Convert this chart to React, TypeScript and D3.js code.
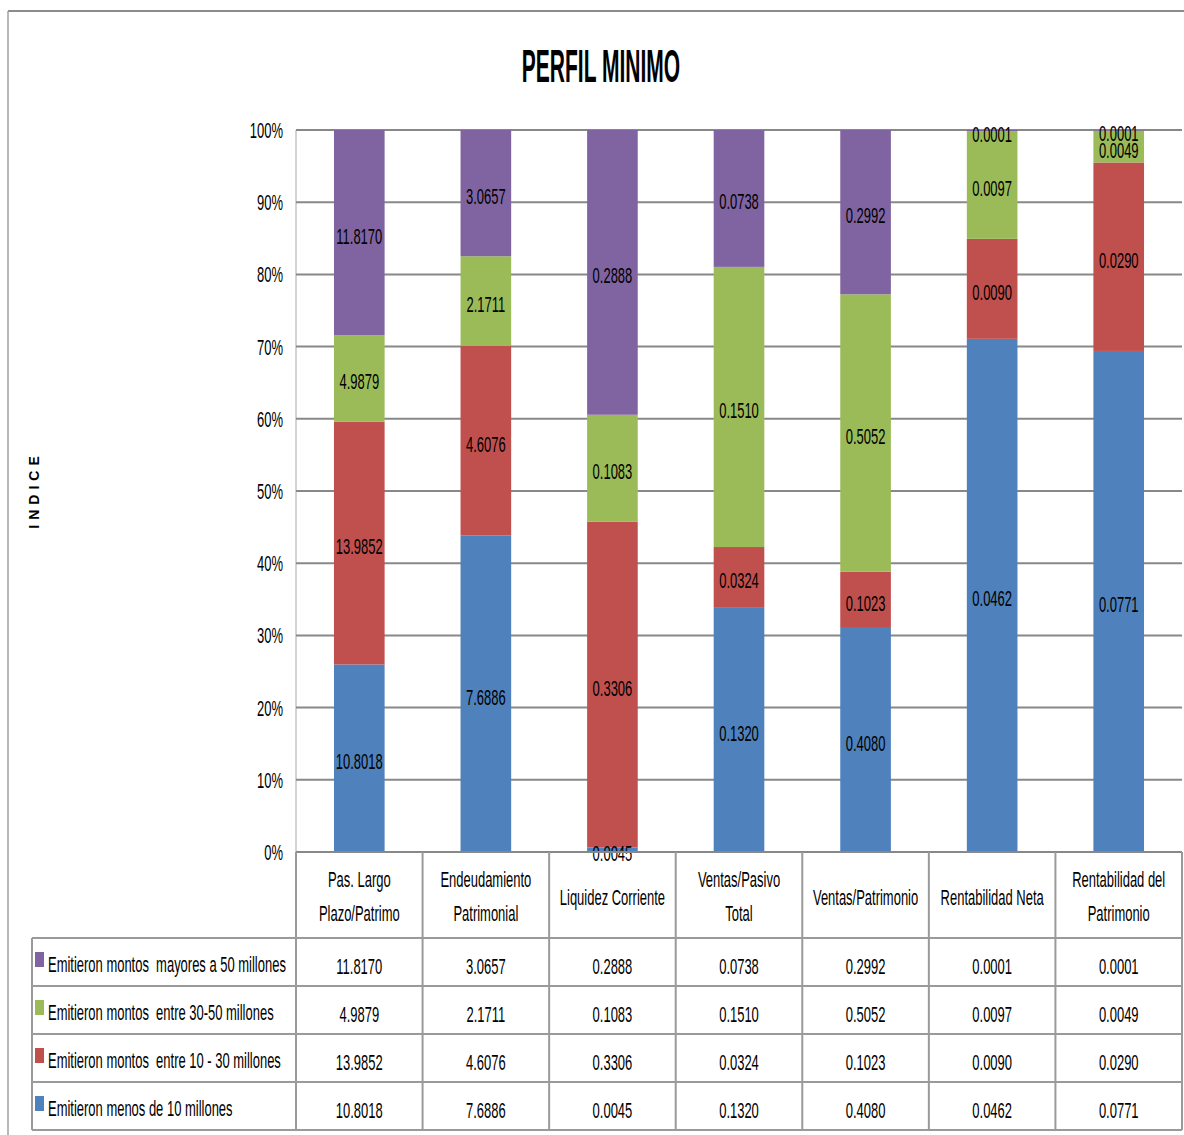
import * as d3 from "d3";

const categories = [
  "Pas. Largo Plazo/Patrimo",
  "Endeudamiento Patrimonial",
  "Liquidez Corriente",
  "Ventas/Pasivo Total",
  "Ventas/Patrimonio",
  "Rentabilidad Neta",
  "Rentabilidad del Patrimonio",
];
const categoryLines = [
  ["Pas. Largo", "Plazo/Patrimo"],
  ["Endeudamiento", "Patrimonial"],
  ["Liquidez Corriente"],
  ["Ventas/Pasivo", "Total"],
  ["Ventas/Patrimonio"],
  ["Rentabilidad Neta"],
  ["Rentabilidad del", "Patrimonio"],
];

const seriesKeys = ["menos10", "entre10_30", "entre30_50", "mayores50"];
const seriesNames = [
  "Emitieron menos de 10 millones",
  "Emitieron montos  entre 10 - 30 millones",
  "Emitieron montos  entre 30-50 millones",
  "Emitieron montos  mayores a 50 millones",
];
const seriesColors = ["#4F81BD", "#C0504D", "#9BBB59", "#8064A2"];

const menos10 = [10.8018, 7.6886, 0.0045, 0.132, 0.408, 0.0462, 0.0771];
const entre10_30 = [13.9852, 4.6076, 0.3306, 0.0324, 0.1023, 0.009, 0.029];
const entre30_50 = [4.9879, 2.1711, 0.1083, 0.151, 0.5052, 0.0097, 0.0049];
const mayores50 = [11.817, 3.0657, 0.2888, 0.0738, 0.2992, 0.0001, 0.0001];
const seriesValues = [menos10, entre10_30, entre30_50, mayores50];

const yTicks = [0, 0.1, 0.2, 0.3, 0.4, 0.5, 0.6, 0.7, 0.8, 0.9, 1];

const FONT = "'Liberation Sans', Arial, sans-serif";
const SX = 0.59;

function T({ x, y, children, size = 22, sx = SX, anchor = "middle", weight = "normal", spacing = 0 }: any) {
  return (
    <text
      transform={`translate(${x},${y}) scale(${sx},1)`}
      fontSize={size}
      fontFamily={FONT}
      fontWeight={weight}
      textAnchor={anchor}
      letterSpacing={spacing}
      fill="#000"
      style={{ whiteSpace: "pre" }}
    >
      {children}
    </text>
  );
}

export default function App() {
  const left = 296;
  const right = 1182;
  const top = 130;
  const bottom = 852;

  const x = d3.scaleBand<string>().domain(categories).range([left, right]).padding(0);
  const y = d3.scaleLinear().domain([0, 1]).range([bottom, top]);
  const bw = x.bandwidth();
  const barW = bw * 0.4;

  const rows = categories.map((c, i) => {
    const r: any = { cat: c };
    seriesKeys.forEach((k, s) => (r[k] = seriesValues[s][i]));
    return r;
  });
  const stacked = d3.stack().keys(seriesKeys).offset(d3.stackOffsetExpand)(rows);
  const fmt = d3.format(".4f");

  const headerBottom = 938;
  const rowH = 48;
  const tableOrder = [3, 2, 1, 0];
  const lineColor = "#9a9a9a";

  return (
    <svg
      width={1184}
      height={1135}
      style={{ position: "absolute", left: 0, top: 0, display: "block", background: "#fff" }}
    >
      <rect x={0} y={0} width={1184} height={1135} fill="#fff" />
      {/* outer chart border */}
      <line x1={8} x2={1184} y1={11} y2={11} stroke="#8c8c8c" strokeWidth={2} />
      <line x1={8} x2={8} y1={11} y2={1135} stroke="#a0a0a0" strokeWidth={1.5} />

      <T x={601} y={82} size={46} sx={0.457} weight="bold">
        PERFIL MINIMO
      </T>

      <text
        transform="translate(39,490) rotate(-90)"
        fontSize={14}
        fontFamily={FONT}
        fontWeight="bold"
        textAnchor="middle"
        letterSpacing={5}
      >
        INDICE
      </text>

      {/* gridlines */}
      <line x1={left} x2={left} y1={top} y2={bottom} stroke="#c4c4c4" strokeWidth={1.5} />
      {yTicks.map((t) => (
        <g key={t}>
          <line x1={left} x2={right} y1={y(t)} y2={y(t)} stroke="#888" strokeWidth={2} />
          <T x={283} y={y(t) + 8} anchor="end">
            {d3.format(".0%")(t)}
          </T>
        </g>
      ))}

      {/* bars */}
      {stacked.map((layer, s) => (
        <g key={layer.key}>
          {layer.map((d: any, i) => (
            <rect
              key={i}
              x={(x(categories[i]) as number) + (bw - barW) / 2}
              y={y(d[1])}
              width={barW}
              height={y(d[0]) - y(d[1])}
              fill={seriesColors[s]}
            />
          ))}
        </g>
      ))}
      {stacked.map((layer, s) => (
        <g key={"l" + layer.key}>
          {layer.map((d: any, i) => (
            <T key={i} x={(x(categories[i]) as number) + bw / 2} y={y((d[0] + d[1]) / 2) + 11}>
              {fmt(seriesValues[s][i])}
            </T>
          ))}
        </g>
      ))}

      {/* table lines */}
      <line x1={left} x2={right} y1={bottom} y2={bottom} stroke="#888" strokeWidth={2} />
      {d3.range(5).map((r) => (
        <line
          key={r}
          x1={32}
          x2={right}
          y1={headerBottom + r * rowH}
          y2={headerBottom + r * rowH}
          stroke={lineColor}
          strokeWidth={2}
        />
      ))}
      <line x1={32} x2={32} y1={headerBottom} y2={headerBottom + 4 * rowH} stroke={lineColor} strokeWidth={2} />
      {categories.map((c) => (
        <line
          key={c}
          x1={x(c) as number}
          x2={x(c) as number}
          y1={bottom}
          y2={headerBottom + 4 * rowH}
          stroke={lineColor}
          strokeWidth={2}
        />
      ))}
      <line x1={right} x2={right} y1={bottom} y2={headerBottom + 4 * rowH} stroke={lineColor} strokeWidth={2} />

      {/* category labels */}
      {categories.map((c, i) => {
        const lines = categoryLines[i];
        const cx = (x(c) as number) + bw / 2;
        return (
          <g key={c}>
            {lines.map((ln, j) => (
              <T key={j} x={cx} y={lines.length === 1 ? 905 : 887 + j * 34}>
                {ln}
              </T>
            ))}
          </g>
        );
      })}

      {/* table rows */}
      {tableOrder.map((s, r) => {
        const rt = headerBottom + r * rowH;
        return (
          <g key={s}>
            <rect x={35} y={rt + 14} width={9} height={15} fill={seriesColors[s]} />
            <T x={48} y={rt + 34} anchor="start">
              {seriesNames[s]}
            </T>
            {categories.map((c, i) => (
              <T key={c} x={(x(c) as number) + bw / 2} y={rt + 36}>
                {fmt(seriesValues[s][i])}
              </T>
            ))}
          </g>
        );
      })}
    </svg>
  );
}
